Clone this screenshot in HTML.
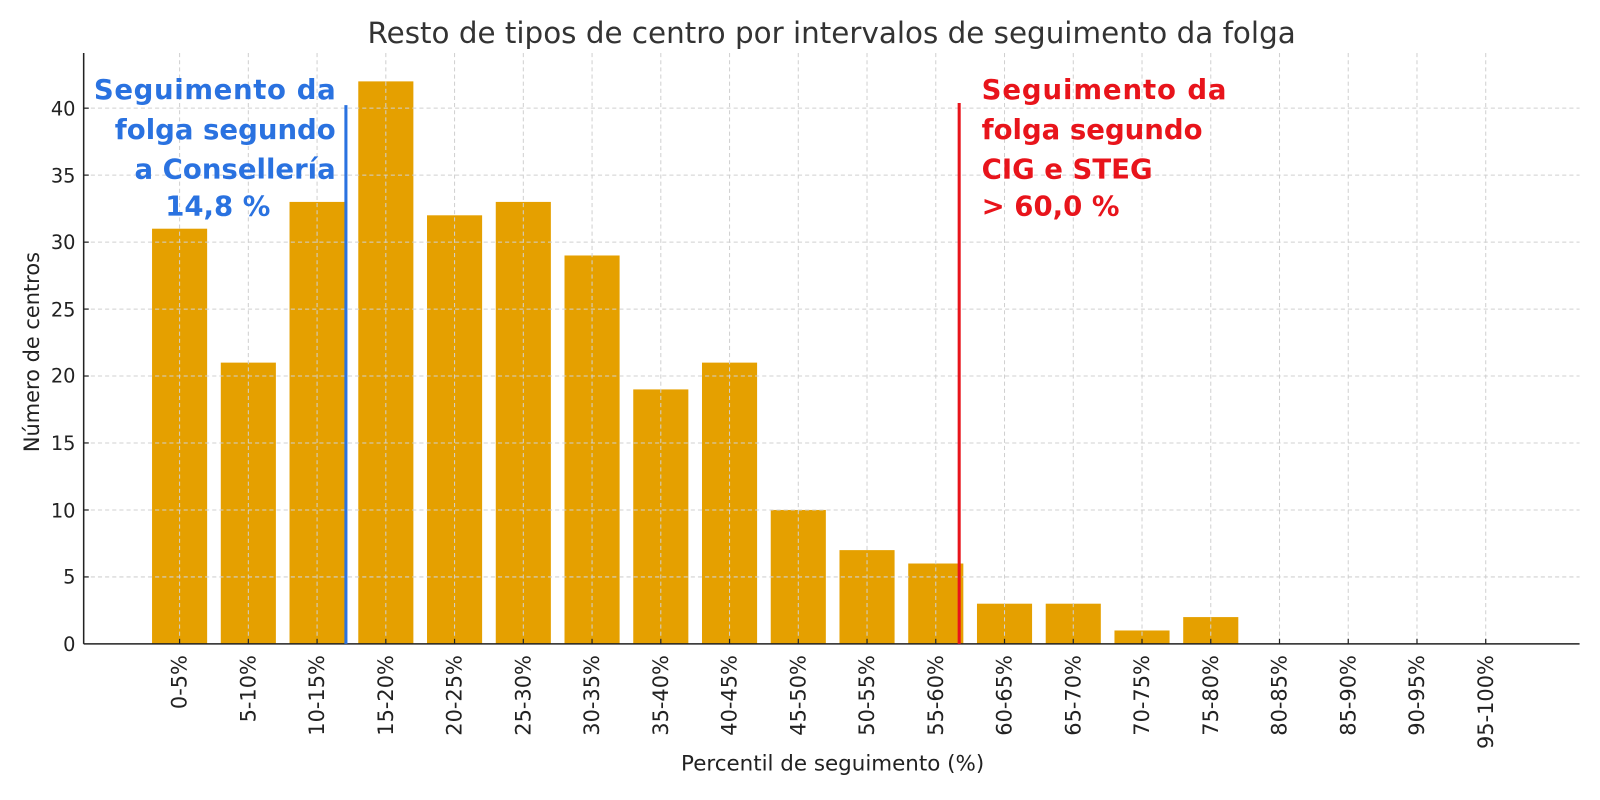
<!DOCTYPE html>
<html><head><meta charset="utf-8"><style>body{margin:0;background:#fff}svg{display:block}</style></head>
<body>
<svg width="1600" height="800" xmlns="http://www.w3.org/2000/svg" font-family="'DejaVu Sans','Liberation Sans',sans-serif">
<rect width="1600" height="800" fill="#fff"/>
<g transform="scale(1.0204)">
<text x="815" y="42" text-anchor="middle" font-size="28.8" fill="#333">Resto de tipos de centro por intervalos de seguimento da folga</text>
<g id="bars" fill="#E5A000"></g>
<g stroke="#d0d0d0" stroke-dasharray="4,3" stroke-width="1">
<line x1="82" x2="1548" y1="565.4" y2="565.4"/><line x1="82" x2="1548" y1="499.8" y2="499.8"/>
<line x1="82" x2="1548" y1="434.1" y2="434.1"/><line x1="82" x2="1548" y1="368.5" y2="368.5"/>
<line x1="82" x2="1548" y1="302.9" y2="302.9"/><line x1="82" x2="1548" y1="237.3" y2="237.3"/>
<line x1="82" x2="1548" y1="171.6" y2="171.6"/><line x1="82" x2="1548" y1="106" y2="106"/>
</g>
<g id="xg" stroke="#d0d0d0" stroke-dasharray="4,3" stroke-width="1"></g>
<line x1="82" y1="52" x2="82" y2="631" stroke="#222" stroke-width="1.5"/>
<line x1="82" y1="631" x2="1548" y2="631" stroke="#222" stroke-width="1.5"/>
<g font-size="19" fill="#222" text-anchor="end">
<text x="74" y="638">0</text><text x="74" y="572">5</text><text x="74" y="507">10</text><text x="74" y="441">15</text>
<text x="74" y="375">20</text><text x="74" y="310">25</text><text x="74" y="244">30</text><text x="74" y="179">35</text><text x="74" y="113">40</text>
</g>
<g stroke="#222" stroke-width="1.2">
<line x1="82" x2="87" y1="565.4" y2="565.4"/><line x1="82" x2="87" y1="499.8" y2="499.8"/><line x1="82" x2="87" y1="434.1" y2="434.1"/><line x1="82" x2="87" y1="368.5" y2="368.5"/><line x1="82" x2="87" y1="302.9" y2="302.9"/><line x1="82" x2="87" y1="237.3" y2="237.3"/><line x1="82" x2="87" y1="171.6" y2="171.6"/><line x1="82" x2="87" y1="106" y2="106"/>
</g>
<g id="tk" stroke="#222" stroke-width="1.2"></g>
<g id="xl" font-size="20.5" fill="#222"></g>
<text transform="translate(38,345) rotate(-90)" text-anchor="middle" font-size="20.5" fill="#222">Número de centros</text>
<text x="816" y="755" text-anchor="middle" font-size="21" fill="#222">Percentil de seguimento (%)</text>
<line x1="339" y1="103" x2="339" y2="631" stroke="#2a72e0" stroke-width="3"/>
<line x1="940" y1="101" x2="940" y2="631" stroke="#e8141b" stroke-width="3"/>
<g font-size="27" font-weight="bold" fill="#2a72e0" text-anchor="end">
<text x="329" y="97" textLength="237">Seguimento da</text>
<text x="329" y="136">folga segundo</text>
<text x="329" y="175">a Consellería</text>
<text x="265" y="211">14,8 %</text>
</g>
<g font-size="27" font-weight="bold" fill="#e8141b">
<text x="962" y="97" textLength="240">Seguimento da</text>
<text x="962" y="136">folga segundo</text>
<text x="962" y="175">CIG e STEG</text>
<text x="962" y="211">&gt; 60,0 %</text>
</g>
</g>
<script>
var v=[31,21,33,42,32,33,29,19,21,10,7,6,3,3,1,2,0,0,0,0];
var labs=["0-5%","5-10%","10-15%","15-20%","20-25%","25-30%","30-35%","35-40%","40-45%","45-50%","50-55%","55-60%","60-65%","65-70%","70-75%","75-80%","80-85%","85-90%","90-95%","95-100%"];
var ns="http://www.w3.org/2000/svg";
function el(t,a,p){var e=document.createElementNS(ns,t);for(var k in a)e.setAttribute(k,a[k]);document.getElementById(p).appendChild(e);return e;}
for(var i=0;i<20;i++){var c=176+i*67.37;
el("line",{x1:c,x2:c,y1:52,y2:631},"xg");
if(v[i]>0)el("rect",{x:c-27,y:631-v[i]*13.125,width:54,height:v[i]*13.125},"bars");
var t=el("text",{transform:"translate("+(c+7)+",642) rotate(-90)","text-anchor":"end"},"xl");t.textContent=labs[i];
el("line",{x1:c,x2:c,y1:626,y2:631},"tk");}
</script>
</svg>
</body></html>
